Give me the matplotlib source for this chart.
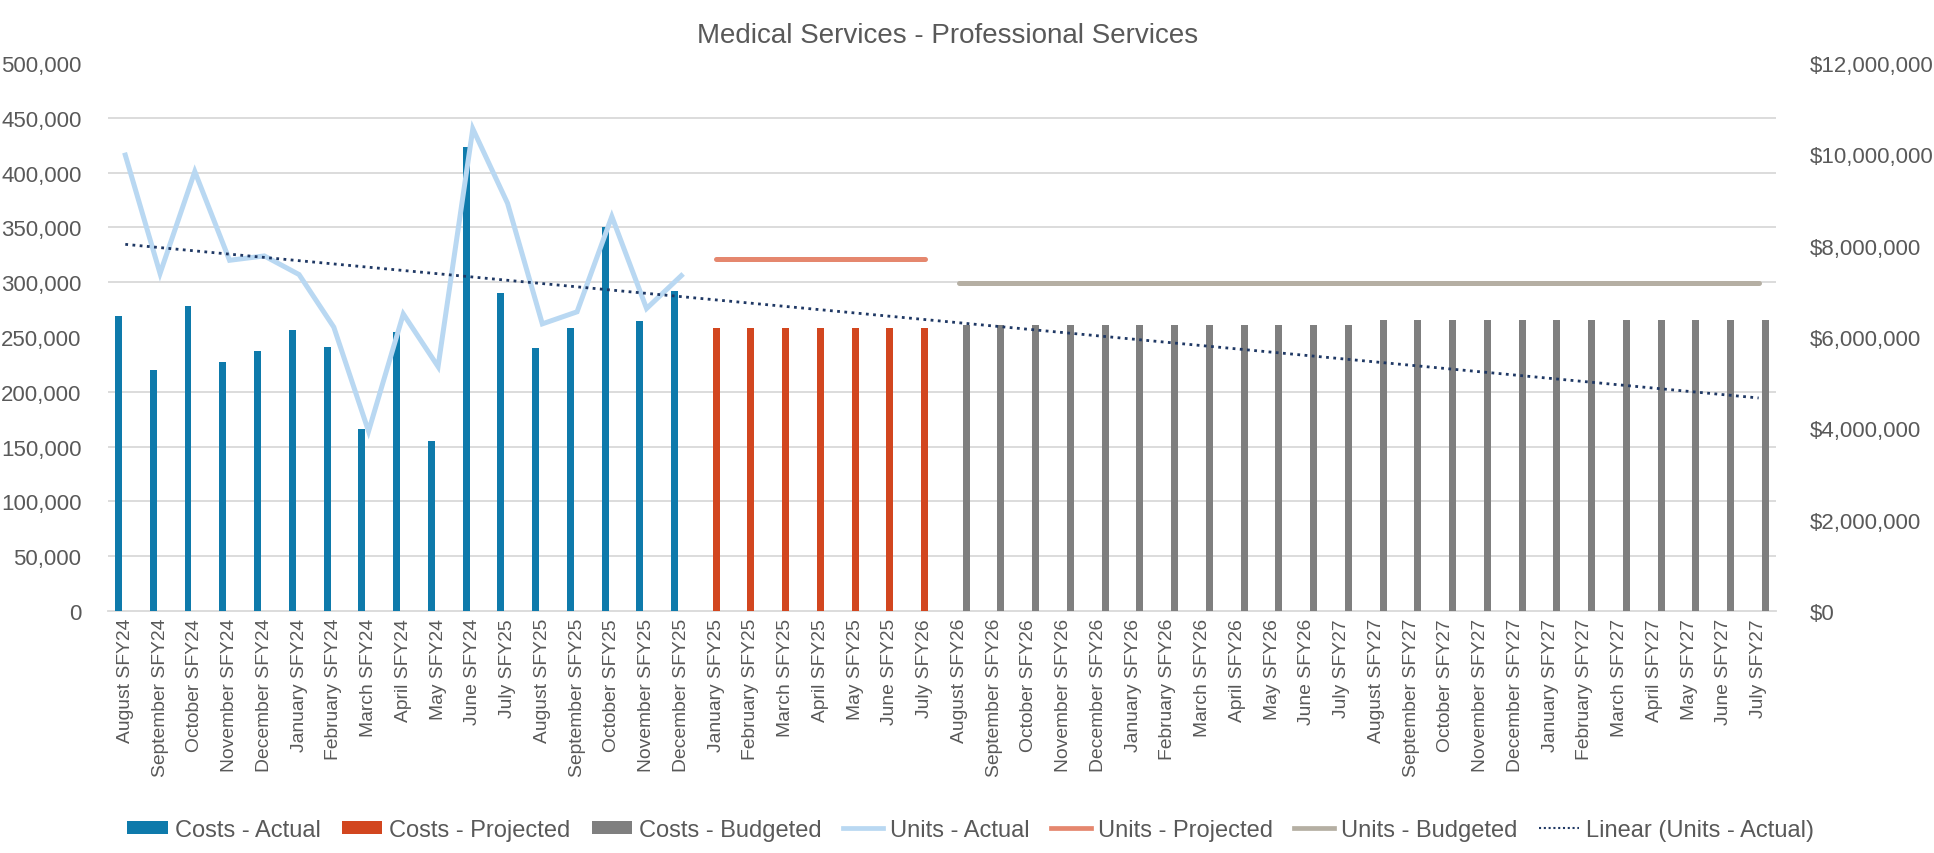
import numpy as np
import matplotlib
matplotlib.use("Agg")
import matplotlib.pyplot as plt
from matplotlib.ticker import FuncFormatter
from matplotlib.patches import Patch
from matplotlib.lines import Line2D

FONT = "Liberation Sans"

title = "Medical Services - Professional Services"

months = ["August", "September", "October", "November", "December", "January",
          "February", "March", "April", "May", "June", "July"]
categories = (
    [f"{m} SFY24" for m in months[:11]] + ["July SFY25"] +
    [f"{m} SFY25" for m in months[:11]] + ["July SFY26"] +
    [f"{m} SFY26" for m in months[:11]] + ["July SFY27"] +
    [f"{m} SFY27" for m in months[:11]] + ["July SFY27"]
)

costs_actual = [6456000, 5282000, 6674000, 5448000, 5702000, 6158000, 5772000,
                3977000, 6113000, 3722000, 10169000, 6972000, 5755000, 6192000,
                8400000, 6341000, 7015000]
costs_projected = [6200000] * 7
costs_budgeted = [6270000] * 12 + [6370000] * 12

units_actual = [416000, 308000, 401000, 320000, 324000, 307000, 259000, 164000,
                271000, 223000, 440000, 372000, 262000, 273000, 360000, 276000,
                306000]
units_projected = [321000] * 7
units_budgeted = [299000] * 24

n_act = len(costs_actual)
n_proj = len(costs_projected)
x = np.arange(len(categories))
x_act = x[:n_act]
x_proj = x[n_act:n_act + n_proj]
x_bud = x[n_act + n_proj:]

c_act = "#0E7AAB"
c_proj = "#D2461F"
c_bud = "#7F7F7F"
c_uact = "#B9D8F2"
c_uproj = "#E5876E"
c_ubud = "#B5AFA3"
c_trend = "#1F3864"
txt = "#595959"
grid = "#D9D9D9"

fig = plt.figure(figsize=(19.34, 8.54), dpi=100)
ax2 = fig.add_axes([0.0558, 0.2834, 0.8625, 0.6416])
ax = ax2.twinx()
ax.yaxis.tick_left()
ax.yaxis.set_label_position("left")
ax2.yaxis.tick_right()
ax.set_zorder(ax2.get_zorder() + 1)
ax.patch.set_visible(False)

bw = 0.2
off = 0.195
ax2.bar(x_act - off, costs_actual, width=bw, color=c_act, zorder=3)
ax2.bar(x_proj, costs_projected, width=bw, color=c_proj, zorder=3)
ax2.bar(x_bud + off, costs_budgeted, width=bw, color=c_bud, zorder=3)

ax.plot(x_act, units_actual, color=c_uact, lw=3.6, solid_joinstyle="miter")
ax.plot(x_proj, units_projected, color=c_uproj, lw=3.6, solid_capstyle="round")
ax.plot(x_bud, units_budgeted, color=c_ubud, lw=3.6, solid_capstyle="round")
coef = np.polyfit(x_act, units_actual, 1)
ax.plot(x, np.polyval(coef, x), color=c_trend, lw=2, linestyle=(0, (1, 1.6)))

ax.set_ylim(0, 500000)
ax2.set_ylim(0, 12000000)
ax.set_xlim(-0.5, len(categories) - 0.5)
ax.set_yticks(np.arange(0, 500001, 50000))
ax2.set_yticks(np.arange(0, 12000001, 2000000))
ax2.set_yticks(np.arange(0, 12000001, 1200000), minor=True)
ax2.grid(which="minor", axis="y", color=grid, lw=1.3, zorder=0)
ax2.tick_params(which="minor", length=0)
ax.yaxis.set_major_formatter(FuncFormatter(lambda v, p: f"{v:,.0f}"))
ax2.yaxis.set_major_formatter(FuncFormatter(lambda v, p: f"${v:,.0f}"))

ax2.set_xticks(x)
ax2.set_xticklabels(categories, rotation=90, fontsize=13.9, family=FONT, color=txt)
ax2.tick_params(axis="x", length=0, pad=5)
ax.tick_params(axis="x", length=0)
ax.tick_params(axis="y", length=0, pad=19, labelsize=16, labelcolor=txt)
ax2.tick_params(axis="y", which="major", length=0, pad=24, labelsize=16, labelcolor=txt)
for lab in ax.get_yticklabels() + ax2.get_yticklabels():
    lab.set_family(FONT)

for a in (ax, ax2):
    for s in a.spines.values():
        s.set_visible(False)
ax2.spines["bottom"].set_visible(True)
ax2.spines["bottom"].set_color(grid)
ax2.spines["bottom"].set_linewidth(1.3)

fig.text(0.490, 0.958, title, ha="center", va="center", fontsize=20,
         family=FONT, color=txt)

handles = [
    Patch(facecolor=c_act, label="Costs - Actual"),
    Patch(facecolor=c_proj, label="Costs - Projected"),
    Patch(facecolor=c_bud, label="Costs - Budgeted"),
    Line2D([], [], color=c_uact, lw=3.4, label="Units - Actual"),
    Line2D([], [], color=c_uproj, lw=3.4, label="Units - Projected"),
    Line2D([], [], color=c_ubud, lw=3.4, label="Units - Budgeted"),
    Line2D([], [], color=c_trend, lw=1.5, linestyle=(0, (1, 1.3)), label="Linear (Units - Actual)"),
]
fig.legend(handles=handles, loc="center", bbox_to_anchor=(0.502, 0.027), ncol=7,
           frameon=False, prop={"family": FONT, "size": 17}, labelcolor=txt,
           handlelength=1.7, handleheight=0.5, handletextpad=0.3, columnspacing=0.9)

fig.savefig("out.png", dpi=100, facecolor="white")
